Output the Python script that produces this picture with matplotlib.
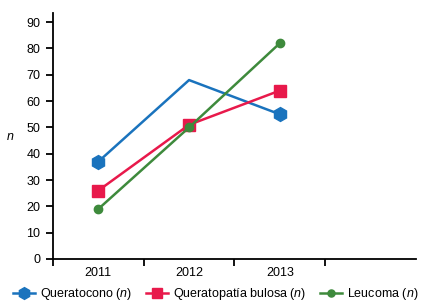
import matplotlib
matplotlib.use("Agg")
import matplotlib.pyplot as plt
import numpy as np

plt.rcParams['font.family'] = ['Liberation Sans', 'DejaVu Sans']
plt.rcParams['mathtext.fontset'] = 'custom'
plt.rcParams['mathtext.it'] = 'Liberation Sans:italic'
plt.rcParams['mathtext.rm'] = 'Liberation Sans'

# data
years = ['2011', '2012', '2013']
queratocono = [37, 68, 55]
queratopatia = [26, 51, 64]
leucoma = [19, 50, 82]

c_blue = '#1a73bd'
c_red = '#e8194b'
c_green = '#3e8a3c'

x = np.arange(1, len(years) + 1)

fig = plt.figure(figsize=(4.27, 3.06), dpi=100)
ax = fig.add_axes([0.124, 0.1536, 0.850, 0.804])

ax.plot(x, queratocono, color=c_blue, lw=1.8, marker='h', ms=10,
        markevery=[0, 2], label='Queratocono ($n$)')
ax.plot(x, queratopatia, color=c_red, lw=1.8, marker='s', ms=8.5,
        label='Queratopatía bulosa ($n$)')
ax.plot(x, leucoma, color=c_green, lw=1.8, marker='o', ms=6,
        label='Leucoma ($n$)')

ax.set_xlim(0.5, 4.5)
ax.set_ylim(0, 93.5)
ax.set_yticks(np.arange(0, 91, 10))
ax.set_xticks(x)
ax.set_xticklabels(years)
ax.set_xticks(np.arange(0.5, 4.0, 1.0), minor=True)
ax.tick_params(axis='x', which='major', length=0, pad=6, labelsize=9)
ax.tick_params(axis='x', which='minor', length=5, width=1.3, direction='out')
ax.tick_params(axis='y', length=5, width=1.3, labelsize=9, pad=4)

for s in ['top', 'right']:
    ax.spines[s].set_visible(False)
for s in ['left', 'bottom']:
    ax.spines[s].set_linewidth(1.3)

fig.text(0.024, 0.552, 'n', style='italic', fontsize=9, ha='center', va='center')

leg = fig.legend(loc='lower center', bbox_to_anchor=(0.505, 0.0), ncol=3, frameon=False,
                 fontsize=9, handlelength=1.75, columnspacing=1.1, handletextpad=0.4,
                 borderpad=0.1, borderaxespad=0.2)
for h in leg.legend_handles:
    h.set_markersize(h.get_markersize() * 0.85)

fig.savefig('out.png', dpi=100)
